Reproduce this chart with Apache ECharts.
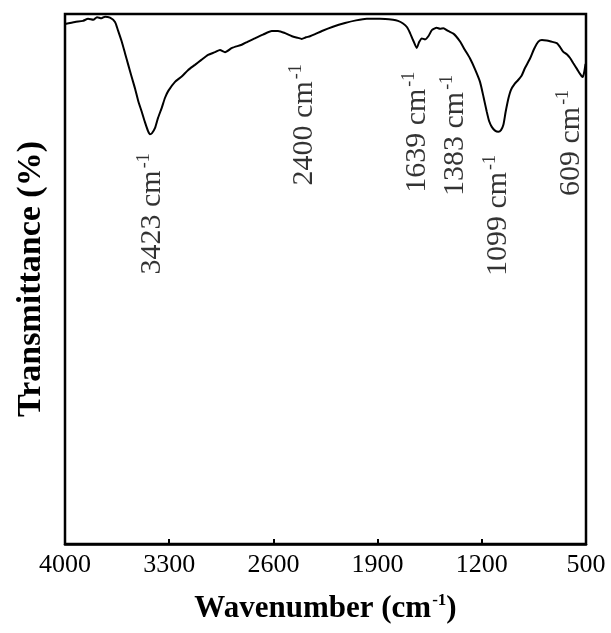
<!DOCTYPE html>
<html>
<head>
<meta charset="utf-8">
<script src="https://cdn.jsdelivr.net/npm/echarts@6/dist/echarts.min.js"></script>
<style>
  html, body { margin: 0; padding: 0; background: #ffffff; }
  #chart { width: 611px; height: 633px; }
</style>
</head>
<body>
<div id="chart"></div>
<script>
// FTIR spectrum: wavenumber (cm-1) and transmittance (%)
const wavenumber = [
  4000, 3933, 3880, 3845, 3810, 3785, 3755, 3731, 3698, 3664, 3644, 3619, 3597,
  3575, 3552, 3530, 3508, 3485, 3463, 3442, 3429, 3416, 3395, 3375, 3350, 3328,
  3306, 3261, 3216, 3174, 3127, 3086, 3039, 2992, 2959, 2925, 2878, 2813, 2771,
  2724, 2670, 2611, 2569, 2522, 2475, 2435, 2410, 2381, 2354, 2320, 2274, 2200,
  2119, 2045, 1973, 1884, 1796, 1763, 1729, 1702, 1682, 1662, 1637, 1621, 1603,
  1581, 1559, 1534, 1503, 1481, 1458, 1427, 1391, 1373, 1346, 1313, 1279, 1246,
  1212, 1188, 1167, 1151, 1133, 1111, 1089, 1071, 1055, 1040, 1021, 1004, 977,
  957, 932, 910, 876, 849, 820, 796, 764, 735, 696, 675, 654, 629, 607, 585, 560,
  540, 530, 522, 513, 503
];
const transmittance = [
  98.1, 98.5, 98.7, 99.1, 98.9, 99.4, 99.2, 99.5, 99.3, 98.5, 96.9, 94.8, 92.6,
  90.4, 88.1, 86.0, 83.6, 81.6, 79.6, 77.9, 77.3, 77.5, 78.5, 80.4, 82.3, 84.2,
  85.5, 87.2, 88.2, 89.4, 90.4, 91.3, 92.3, 92.8, 93.2, 92.8, 93.6, 94.2, 94.8,
  95.4, 96.1, 96.8, 96.8, 96.4, 95.8, 95.5, 95.3, 95.6, 95.8, 96.2, 96.8, 97.6,
  98.3, 98.8, 99.1, 99.1, 98.9, 98.7, 98.2, 97.5, 96.4, 95.1, 93.6, 94.7, 95.4,
  95.2, 95.8, 97.0, 97.4, 97.2, 97.3, 96.8, 96.3, 95.8, 94.8, 93.2, 91.6, 89.6,
  87.2, 84.3, 81.6, 79.8, 78.7, 78.0, 77.8, 78.1, 79.1, 81.5, 84.1, 85.7, 86.9,
  87.5, 88.4, 89.8, 91.6, 93.4, 94.8, 95.1, 95.0, 94.8, 94.5, 93.8, 92.9, 92.4,
  91.7, 90.7, 89.6, 88.7, 88.3, 88.1, 88.9, 90.6
];

// Peak annotations (band position and label text)
const peakWavenumbers = [3423, 2400, 1639, 1383, 1099, 609];
const peakLabels = ['3423 cm', '2400 cm', '1639 cm', '1383 cm', '1099 cm', '609 cm'];
// where each vertical label starts (transmittance units)
const labelBase = [51.8, 68.6, 67.2, 66.6, 51.5, 66.6];

const xTicks = [500, 1200, 1900, 2600, 3300, 4000];

const serif = '"Liberation Serif", "Times New Roman", serif';

const spectrum = wavenumber.map((w, i) => [w, transmittance[i]]);
const peaks = peakWavenumbers.map((w, i) => ({
  value: [w, labelBase[i]],
  label: {
    formatter: '{n|' + peakLabels[i] + '}{s|-1}'
  }
}));

const chart = echarts.init(document.getElementById('chart'), null, { renderer: 'canvas' });

chart.setOption({
  animation: false,
  backgroundColor: '#ffffff',
  grid: {
    left: 65, right: 25, top: 14, bottom: 89,
    show: true,
    borderColor: '#000000',
    borderWidth: 2.5
  },
  xAxis: {
    type: 'value',
    min: xTicks[0],
    max: xTicks[xTicks.length - 1],
    interval: xTicks[1] - xTicks[0],
    inverse: true,
    axisLine: { show: true, lineStyle: { color: '#000', width: 2.5 } },
    axisTick: { show: true, inside: true, length: 5, lineStyle: { color: '#000', width: 2 } },
    splitLine: { show: false },
    axisLabel: {
      color: '#000',
      fontFamily: serif,
      fontSize: 26,
      margin: 8,
      formatter: (v) => String(v)
    },
    name: '{t|Wavenumber (cm}{s|-1}{t|)}',
    nameLocation: 'middle',
    nameGap: 46,
    nameTextStyle: {
      rich: {
        t: { fontFamily: serif, fontSize: 31, fontWeight: 'bold', color: '#000', lineHeight: 34, verticalAlign: 'bottom' },
        s: { fontFamily: serif, fontSize: 17, fontWeight: 'bold', color: '#000', lineHeight: 34, verticalAlign: 'top', padding: [2, 0, 0, 1] }
      }
    }
  },
  yAxis: {
    type: 'value',
    min: 0,
    max: 100,
    axisLine: { show: false },
    axisTick: { show: false },
    axisLabel: { show: false },
    splitLine: { show: false },
    name: 'Transmittance (%)',
    nameLocation: 'middle',
    nameGap: 17,
    nameRotate: 90,
    nameTextStyle: {
      fontFamily: serif,
      fontSize: 34,
      fontWeight: 'bold',
      color: '#000'
    }
  },
  series: [
    {
      type: 'line',
      data: spectrum,
      showSymbol: false,
      symbol: 'none',
      smooth: 0.2,
      lineStyle: { color: '#000', width: 2 },
      z: 3
    },
    {
      type: 'scatter',
      data: peaks,
      symbolSize: 0,
      silent: true,
      label: {
        show: true,
        position: 'inside',
        rotate: 90,
        align: 'left',
        verticalAlign: 'middle',
        offset: [-5, 0],
        rich: {
          n: { fontFamily: serif, fontSize: 30, color: '#000', lineHeight: 32, verticalAlign: 'bottom' },
          s: { fontFamily: serif, fontSize: 18, color: '#000', lineHeight: 32, verticalAlign: 'top', padding: [0, 0, 0, 2] }
        }
      },
      z: 4
    }
  ]
});
</script>
</body>
</html>
